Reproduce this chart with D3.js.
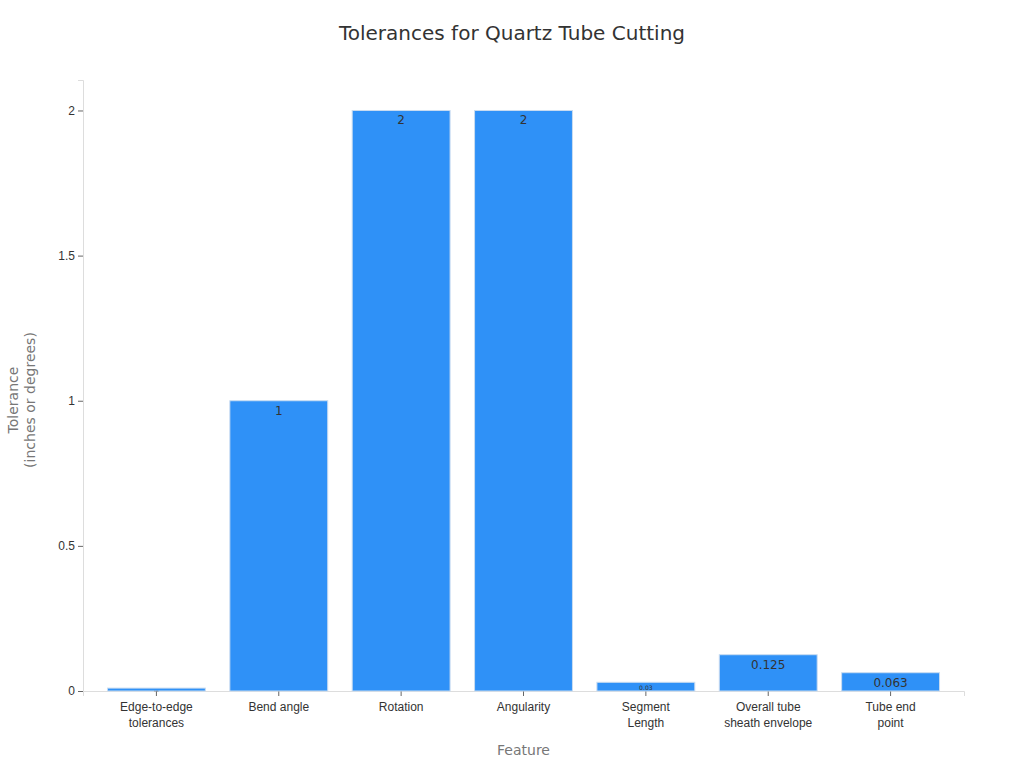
<!DOCTYPE html>
<html>
<head>
<meta charset="utf-8">
<script src="https://cdn.jsdelivr.net/npm/d3@7"></script>
<style>
  body { margin: 0; background: #fff; font-family: "DejaVu Sans", sans-serif; }
</style>
</head>
<body>
<div id="chart"></div>
<script>
// data
const categories = ["Edge-to-edge\ntolerances", "Bend angle", "Rotation", "Angularity", "Segment\nLength", "Overall tube\nsheath envelope", "Tube end\npoint"];
const values = [0.01, 1, 2, 2, 0.03, 0.125, 0.063];
const valueLabels = ["0.01", "1", "2", "2", "0.03", "0.125", "0.063"];
const yTicks = [0, 0.5, 1, 1.5, 2];

const WIDTH = 1024, HEIGHT = 768;
const margin = { top: 80, right: 60, bottom: 77, left: 83 };
const innerW = WIDTH - margin.left - margin.right;
const innerH = HEIGHT - margin.top - margin.bottom;

const svg = d3.select("#chart").append("svg")
  .attr("width", WIDTH).attr("height", HEIGHT);

svg.append("text")
  .attr("x", 512).attr("y", 40)
  .attr("text-anchor", "middle")
  .attr("font-size", 20).attr("fill", "#333")
  .text("Tolerances for Quartz Tube Cutting");

const g = svg.append("g").attr("transform", `translate(${margin.left},${margin.top})`);

const x = d3.scaleBand().domain(categories).range([0, innerW]).padding(0.2);
const y = d3.scaleLinear().domain([0, 2.105]).range([innerH, 0]);

// y axis
const yAxis = g.append("g").call(d3.axisLeft(y).tickValues(yTicks).tickFormat(d3.format("")).tickSize(5));
yAxis.select(".domain").attr("stroke", "#ddd");
yAxis.selectAll(".tick line").attr("stroke", "#666");
yAxis.selectAll("text").attr("font-size", 12).attr("fill", "#333");

// x axis
const xAxis = g.append("g").attr("transform", `translate(0,${innerH})`)
  .call(d3.axisBottom(x).tickSize(5));
xAxis.select(".domain").attr("stroke", "#ddd");
xAxis.selectAll(".tick line").attr("stroke", "#666");
xAxis.selectAll("text").remove();
xAxis.selectAll(".tick").each(function (d) {
  const t = d3.select(this).append("text")
    .attr("y", 20).attr("fill", "#333").attr("font-size", 12).attr("text-anchor", "middle");
  d.split("\n").forEach((line, i) => {
    t.append("tspan").attr("x", 0).attr("dy", i ? 16 : 0).text(line);
  });
});

// bars
g.selectAll(".bar").data(values).enter().append("rect")
  .attr("class", "bar")
  .attr("x", (d, i) => x(categories[i]))
  .attr("y", d => y(d))
  .attr("width", x.bandwidth())
  .attr("height", d => innerH - y(d))
  .attr("fill", "#2f91f7")
  .attr("stroke", "#c9dcf0").attr("stroke-width", 1);

// value labels (shrink to fit short bars)
g.selectAll(".vlabel").data(values).enter().append("text")
  .attr("x", (d, i) => x(categories[i]) + x.bandwidth() / 2)
  .attr("y", d => {
    const h = innerH - y(d);
    const fs = Math.min(12, Math.max(2, h * 0.7));
    return y(d) + Math.min(14, fs + 2);
  })
  .attr("text-anchor", "middle")
  .attr("font-size", d => Math.min(12, Math.max(2, (innerH - y(d)) * 0.7)))
  .attr("fill", "#333")
  .text((d, i) => valueLabels[i]);

// axis titles
svg.append("text")
  .attr("x", margin.left + innerW / 2).attr("y", 755)
  .attr("text-anchor", "middle").attr("font-size", 14).attr("fill", "#777")
  .text("Feature");

const yt = svg.append("text")
  .attr("transform", "translate(18,400) rotate(-90)")
  .attr("text-anchor", "middle").attr("font-size", 14).attr("fill", "#777");
yt.append("tspan").attr("x", 0).attr("dy", 0).text("Tolerance");
yt.append("tspan").attr("x", 0).attr("dy", 17).text("(inches or degrees)");
</script>
</body>
</html>
